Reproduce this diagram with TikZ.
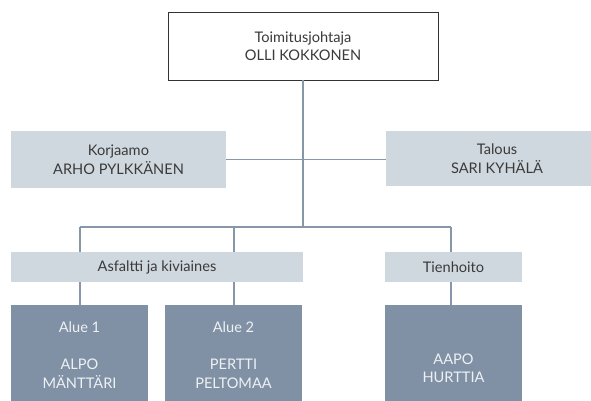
\documentclass[tikz,border=0pt]{standalone}
\usepackage{fontspec}
\setmainfont{Lato}
\definecolor{lightbox}{HTML}{D0D8DF}
\definecolor{darkbox}{HTML}{8191A5}
\definecolor{linecol}{HTML}{8796A9}
\definecolor{txtcol}{HTML}{3A3A3A}
\definecolor{whitetxt}{HTML}{EEF1F4}
\begin{document}
\begin{tikzpicture}[x=1pt,y=-1pt,
  every node/.style={inner sep=0pt, outer sep=0pt, align=center, font=\fontsize{14.6}{18.6}\selectfont},
  topbox/.style={draw=black!80, line width=0.9pt, fill=white, text=txtcol},
  lbox/.style={fill=lightbox, text=txtcol},
  dbox/.style={fill=darkbox, text=whitetxt},
  conn/.style={draw=linecol, line width=1.4pt}]
\useasboundingbox (0,0) rectangle (591,400);
% nodes
\node[topbox, minimum width=270pt, minimum height=68pt] (ceo) at (303,46) {Toimitusjohtaja\\OLLI KOKKONEN};
\node[lbox, minimum width=215pt, minimum height=57pt] (korj) at (118.5,159.5) {Korjaamo\\ARHO PYLKKÄNEN};
\node[lbox, minimum width=222pt, minimum height=55pt] (tal) at (497,158.5) {Talous\\SARI KYHÄLÄ};
\node[lbox, minimum width=292pt, minimum height=30pt] (asf) at (157,267) {Asfaltti ja kiviaines};
\node[lbox, minimum width=137pt, minimum height=30pt] (tie) at (453.5,267) {Tienhoito};
\node[dbox, minimum width=137pt, minimum height=100pt] (a1) at (79.5,355) {Alue 1\\~\\ALPO\\MÄNTTÄRI};
\node[dbox, minimum width=137pt, minimum height=100pt] (a2) at (233.5,355) {Alue 2\\~\\PERTTI\\PELTOMAA};
\node[dbox, minimum width=137pt, minimum height=100pt] (a3) at (453.5,355) {~\\~\\AAPO\\HURTTIA};
% coordinates
\coordinate (bus) at (303,227);
\coordinate (busL) at (80,227);
\coordinate (busM) at (234,227);
\coordinate (busR) at (451,227);
% connectors
\draw[conn] (ceo.south) -- (bus);
\draw[conn] (korj.east) -- (korj.east -| tal.west);
\draw[conn] (busL) -- (busR);
\draw[conn] (busL) -- (busL |- asf.north);
\draw[conn] (busM) -- (busM |- asf.north);
\draw[conn] (busR) -- (busR |- tie.north);
\draw[conn] (busL |- asf.south) -- (busL |- a1.north);
\draw[conn] (busM |- asf.south) -- (busM |- a2.north);
\draw[conn] (busR |- tie.south) -- (busR |- a3.north);
\end{tikzpicture}
\end{document}
